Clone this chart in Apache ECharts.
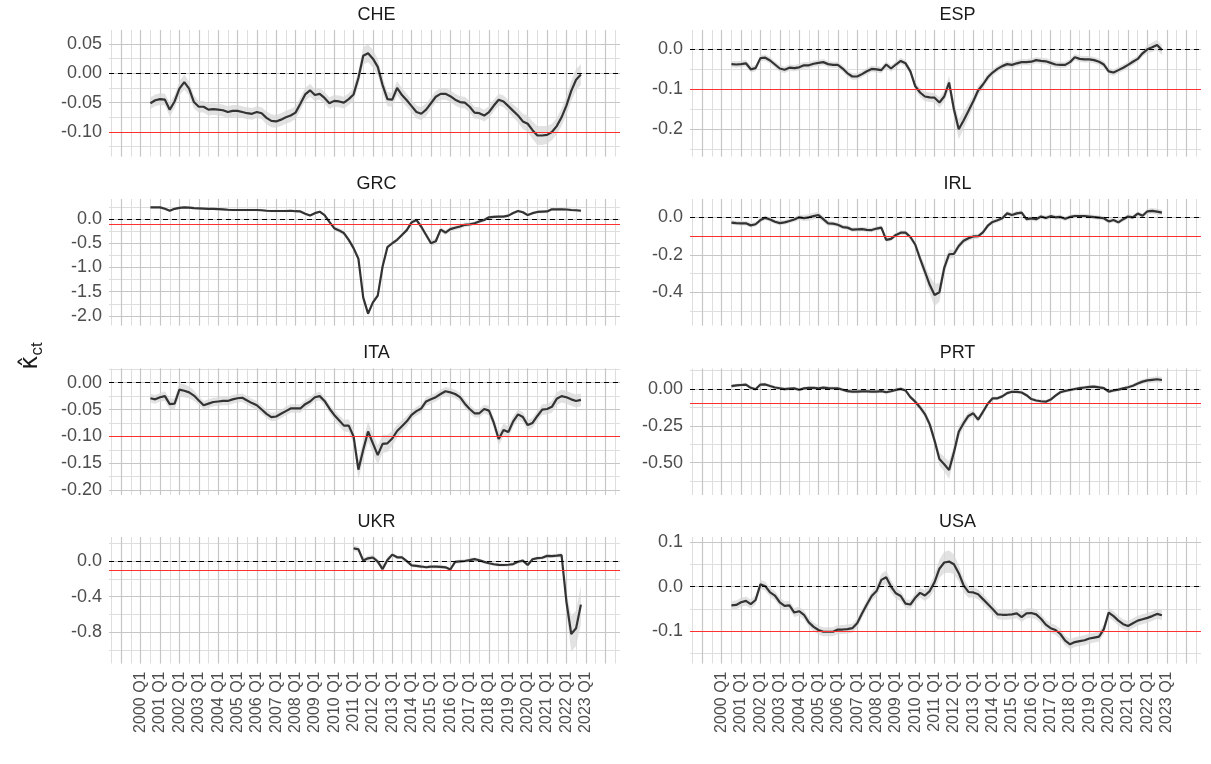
<!DOCTYPE html>
<html><head><meta charset="utf-8">
<script src="https://cdn.jsdelivr.net/npm/echarts@6/dist/echarts.min.js"></script>
<style>html,body{margin:0;padding:0;background:#fff}#c{width:1211px;height:764px}</style>
</head><body><div id="c"></div>
<script>
// ---------- data ----------
const countries = ['CHE','ESP','GRC','IRL','ITA','PRT','UKR','USA'];
const firstQuarter = 2000.5;   // 2000 Q3
const quarterCount = 90;       // up to 2022 Q4
const labelYears = [2000,2001,2002,2003,2004,2005,2006,2007,2008,2009,2010,2011,2012,2013,2014,2015,2016,2017,2018,2019,2020,2021,2022,2023];

const CHE = [-0.051,-0.046,
 -0.044,-0.045,-0.062,-0.048, -0.026,-0.015,-0.026,-0.049, -0.057,-0.057,-0.062,-0.061, -0.062,-0.063,-0.066,-0.064,
 -0.064,-0.066,-0.068,-0.069, -0.066,-0.068,-0.076,-0.081, -0.082,-0.079,-0.075,-0.072, -0.067,-0.052,-0.036,-0.029,
 -0.037,-0.035,-0.042,-0.051, -0.047,-0.048,-0.050,-0.044, -0.036,-0.008,0.030,0.034, 0.025,0.011,-0.020,-0.044,
 -0.045,-0.025,-0.037,-0.046, -0.056,-0.066,-0.069,-0.062, -0.051,-0.040,-0.035,-0.035, -0.039,-0.045,-0.049,-0.050,
 -0.057,-0.067,-0.068,-0.072, -0.066,-0.055,-0.045,-0.048, -0.056,-0.064,-0.072,-0.082, -0.086,-0.097,-0.106,-0.106,
 -0.105,-0.100,-0.090,-0.075, -0.055,-0.030,-0.011,-0.002];
const CHE_se = [0.010,0.010,
 0.010,0.010,0.012,0.011, 0.012,0.013,0.012,0.011, 0.010,0.010,0.010,0.010, 0.010,0.010,0.010,0.010,
 0.010,0.010,0.010,0.010, 0.010,0.010,0.011,0.011, 0.011,0.011,0.011,0.011, 0.011,0.011,0.011,0.011,
 0.010,0.010,0.010,0.010, 0.010,0.010,0.010,0.010, 0.011,0.013,0.015,0.015, 0.015,0.014,0.013,0.012,
 0.012,0.012,0.012,0.011, 0.011,0.011,0.011,0.011, 0.010,0.010,0.010,0.010, 0.010,0.010,0.010,0.010,
 0.010,0.010,0.010,0.010, 0.010,0.010,0.010,0.010, 0.010,0.011,0.012,0.013, 0.014,0.015,0.016,0.016,
 0.015,0.014,0.014,0.015, 0.016,0.017,0.018,0.018];

const ESP = [-0.037,-0.038,
 -0.037,-0.035,-0.050,-0.047, -0.022,-0.021,-0.028,-0.038, -0.048,-0.051,-0.046,-0.047, -0.045,-0.040,-0.040,-0.036,
 -0.034,-0.032,-0.037,-0.039, -0.039,-0.048,-0.060,-0.068, -0.068,-0.062,-0.055,-0.049, -0.050,-0.052,-0.038,-0.048,
 -0.038,-0.029,-0.035,-0.055, -0.092,-0.108,-0.118,-0.120, -0.121,-0.133,-0.118,-0.083, -0.150,-0.200,-0.178,-0.154,
 -0.130,-0.103,-0.088,-0.070, -0.058,-0.049,-0.042,-0.037, -0.039,-0.035,-0.032,-0.032, -0.031,-0.027,-0.029,-0.030,
 -0.034,-0.038,-0.039,-0.039, -0.032,-0.020,-0.024,-0.025, -0.025,-0.027,-0.031,-0.038, -0.055,-0.058,-0.052,-0.046,
 -0.039,-0.031,-0.024,-0.010, 0.000,0.005,0.011,-0.002];
const ESP_se = [0.008,0.008,
 0.008,0.008,0.008,0.008, 0.008,0.008,0.008,0.008, 0.008,0.008,0.008,0.008, 0.008,0.008,0.008,0.008,
 0.008,0.008,0.008,0.008, 0.008,0.008,0.008,0.008, 0.008,0.008,0.008,0.008, 0.008,0.008,0.008,0.008,
 0.008,0.008,0.008,0.008, 0.010,0.011,0.012,0.012, 0.012,0.013,0.014,0.016, 0.020,0.025,0.022,0.018,
 0.014,0.012,0.010,0.009, 0.008,0.008,0.008,0.008, 0.008,0.008,0.008,0.008, 0.008,0.008,0.008,0.008,
 0.008,0.008,0.008,0.008, 0.008,0.008,0.008,0.008, 0.008,0.008,0.008,0.008, 0.008,0.008,0.008,0.008,
 0.008,0.008,0.008,0.008, 0.010,0.012,0.013,0.012];

const GRC = [0.24,0.24,
 0.24,0.21,0.17,0.21, 0.23,0.24,0.235,0.225, 0.22,0.215,0.21,0.21, 0.205,0.20,0.19,0.185,
 0.185,0.185,0.185,0.185, 0.185,0.18,0.17,0.165, 0.165,0.165,0.165,0.17, 0.16,0.155,0.11,0.07,
 0.12,0.15,0.08,-0.06, -0.19,-0.235,-0.29,-0.43, -0.60,-0.82,-1.62,-1.95, -1.72,-1.58,-0.98,-0.58,
 -0.50,-0.43,-0.33,-0.23, -0.07,-0.02,-0.16,-0.33, -0.50,-0.46,-0.22,-0.28, -0.21,-0.18,-0.155,-0.12,
 -0.11,-0.09,-0.05,-0.02, 0.035,0.045,0.05,0.05, 0.07,0.125,0.165,0.14, 0.08,0.12,0.145,0.15,
 0.155,0.20,0.20,0.20, 0.195,0.185,0.18,0.17];
const GRC_se = [0.025,0.025,
 0.025,0.025,0.025,0.025, 0.025,0.025,0.025,0.025, 0.025,0.025,0.025,0.025, 0.025,0.025,0.025,0.025,
 0.025,0.025,0.025,0.025, 0.025,0.025,0.025,0.025, 0.025,0.025,0.025,0.025, 0.025,0.025,0.025,0.025,
 0.025,0.025,0.025,0.025, 0.04,0.05,0.05,0.05, 0.05,0.05,0.05,0.05, 0.05,0.05,0.05,0.04,
 0.04,0.04,0.04,0.04, 0.04,0.04,0.05,0.05, 0.06,0.06,0.05,0.05, 0.05,0.05,0.05,0.05,
 0.04,0.04,0.04,0.04, 0.03,0.03,0.03,0.03, 0.03,0.03,0.03,0.03, 0.03,0.03,0.03,0.03,
 0.03,0.03,0.03,0.03, 0.03,0.03,0.03,0.03];

const IRL = [-0.028,-0.031,
 -0.032,-0.032,-0.043,-0.037, -0.015,-0.003,-0.012,-0.024, -0.031,-0.027,-0.020,-0.012, 0.000,-0.004,0.000,0.006,
 0.012,-0.010,-0.032,-0.034, -0.040,-0.052,-0.055,-0.066, -0.064,-0.063,-0.067,-0.068, -0.060,-0.055,-0.120,-0.115,
 -0.094,-0.082,-0.082,-0.105, -0.145,-0.220,-0.290,-0.360, -0.414,-0.400,-0.270,-0.197, -0.195,-0.153,-0.125,-0.112,
 -0.102,-0.101,-0.080,-0.045, -0.025,-0.016,-0.005,0.021, 0.012,0.021,0.025,-0.010, -0.006,-0.010,0.004,-0.004,
 0.006,0.000,0.002,-0.008, 0.002,0.007,0.007,0.007, 0.004,0.001,-0.002,-0.005, -0.022,-0.014,-0.027,-0.010,
 0.004,0.000,0.020,0.008, 0.032,0.034,0.030,0.025];
const IRL_se = [0.012,0.012,
 0.012,0.012,0.012,0.012, 0.012,0.012,0.012,0.012, 0.012,0.012,0.012,0.012, 0.014,0.016,0.018,0.018,
 0.018,0.016,0.014,0.012, 0.012,0.012,0.012,0.012, 0.012,0.012,0.012,0.012, 0.012,0.012,0.012,0.012,
 0.012,0.012,0.012,0.012, 0.015,0.025,0.035,0.045, 0.060,0.050,0.035,0.025, 0.020,0.018,0.016,0.015,
 0.014,0.013,0.012,0.012, 0.012,0.012,0.012,0.012, 0.012,0.012,0.012,0.012, 0.012,0.012,0.012,0.012,
 0.012,0.012,0.012,0.012, 0.012,0.012,0.012,0.012, 0.012,0.012,0.012,0.012, 0.012,0.012,0.012,0.012,
 0.012,0.012,0.012,0.012, 0.014,0.015,0.015,0.015];

const ITA = [-0.029,-0.031,
 -0.027,-0.025,-0.040,-0.039, -0.013,-0.015,-0.018,-0.024, -0.033,-0.042,-0.039,-0.036, -0.035,-0.034,-0.034,-0.031,
 -0.029,-0.028,-0.033,-0.038, -0.042,-0.050,-0.058,-0.064, -0.063,-0.058,-0.053,-0.048, -0.048,-0.048,-0.040,-0.035,
 -0.027,-0.025,-0.034,-0.048, -0.060,-0.070,-0.080,-0.080, -0.100,-0.162,-0.125,-0.091, -0.113,-0.135,-0.114,-0.113,
 -0.104,-0.090,-0.081,-0.072, -0.060,-0.053,-0.048,-0.035, -0.031,-0.027,-0.021,-0.016, -0.018,-0.021,-0.027,-0.039,
 -0.049,-0.057,-0.057,-0.049, -0.052,-0.075,-0.105,-0.088, -0.092,-0.072,-0.059,-0.064, -0.079,-0.075,-0.062,-0.050,
 -0.049,-0.045,-0.030,-0.025, -0.027,-0.031,-0.034,-0.032];
const ITA_se = [0.008,0.008,
 0.008,0.009,0.010,0.010, 0.012,0.012,0.011,0.010, 0.008,0.008,0.008,0.008, 0.008,0.008,0.008,0.008,
 0.008,0.008,0.008,0.008, 0.008,0.008,0.008,0.008, 0.008,0.008,0.008,0.008, 0.008,0.008,0.008,0.008,
 0.008,0.008,0.008,0.008, 0.009,0.010,0.011,0.012, 0.014,0.018,0.018,0.018, 0.018,0.018,0.017,0.016,
 0.014,0.012,0.011,0.010, 0.008,0.008,0.008,0.008, 0.008,0.008,0.008,0.008, 0.008,0.008,0.008,0.008,
 0.008,0.008,0.008,0.008, 0.009,0.010,0.012,0.012, 0.011,0.010,0.009,0.009, 0.009,0.009,0.009,0.010,
 0.010,0.011,0.012,0.012, 0.012,0.012,0.012,0.012];

const PRT = [0.020,0.024,
 0.027,0.030,0.008,-0.002, 0.030,0.031,0.020,0.010, 0.005,-0.001,0.002,0.004, -0.005,0.004,0.008,0.007,
 0.005,0.009,0.006,0.005, 0.005,-0.005,-0.015,-0.018, -0.018,-0.016,-0.016,-0.018, -0.018,-0.014,-0.022,-0.015,
 -0.006,0.001,-0.010,-0.055, -0.086,-0.125,-0.170,-0.240, -0.350,-0.475,-0.510,-0.550, -0.430,-0.290,-0.232,-0.183,
 -0.165,-0.208,-0.155,-0.100, -0.063,-0.063,-0.050,-0.028, -0.019,-0.019,-0.024,-0.042, -0.068,-0.078,-0.083,-0.086,
 -0.072,-0.045,-0.022,-0.013, -0.007,0.000,0.006,0.010, 0.014,0.016,0.011,0.006, -0.018,-0.010,-0.004,0.004,
 0.012,0.022,0.037,0.050, 0.058,0.062,0.066,0.061];
const PRT_se = [0.012,0.012,
 0.012,0.012,0.012,0.012, 0.012,0.012,0.012,0.012, 0.012,0.012,0.012,0.012, 0.012,0.012,0.012,0.012,
 0.012,0.012,0.012,0.012, 0.012,0.012,0.012,0.012, 0.012,0.012,0.012,0.012, 0.012,0.012,0.012,0.012,
 0.012,0.012,0.012,0.012, 0.015,0.020,0.025,0.030, 0.035,0.045,0.050,0.060, 0.050,0.040,0.030,0.025,
 0.020,0.020,0.018,0.015, 0.012,0.012,0.012,0.012, 0.012,0.012,0.012,0.012, 0.012,0.012,0.012,0.012,
 0.012,0.012,0.012,0.012, 0.012,0.012,0.012,0.012, 0.012,0.012,0.012,0.012, 0.012,0.012,0.012,0.012,
 0.013,0.014,0.015,0.016, 0.018,0.020,0.020,0.020];

const UKR = [null,null,
 null,null,null,null, null,null,null,null, null,null,null,null, null,null,null,null,
 null,null,null,null, null,null,null,null, null,null,null,null, null,null,null,null,
 null,null,null,null, null,null,null,null, 0.142,0.132,0.005,0.030, 0.040,-0.007,-0.090,0.011,
 0.072,0.042,0.041,-0.002, -0.048,-0.055,-0.062,-0.070, -0.064,-0.064,-0.066,-0.071, -0.095,-0.010,-0.004,0.000,
 0.010,0.022,0.008,-0.010, -0.025,-0.036,-0.043,-0.045, -0.042,-0.034,-0.008,0.004, -0.045,0.020,0.032,0.037,
 0.058,0.056,0.060,0.067, -0.456,-0.820,-0.755,-0.490];
const UKR_se = [null,null,
 null,null,null,null, null,null,null,null, null,null,null,null, null,null,null,null,
 null,null,null,null, null,null,null,null, null,null,null,null, null,null,null,null,
 null,null,null,null, null,null,null,null, 0.03,0.03,0.03,0.03, 0.03,0.03,0.04,0.03,
 0.02,0.02,0.02,0.02, 0.02,0.02,0.02,0.02, 0.02,0.02,0.02,0.02, 0.02,0.02,0.02,0.02,
 0.02,0.02,0.02,0.02, 0.02,0.02,0.02,0.02, 0.02,0.02,0.02,0.02, 0.02,0.02,0.02,0.02,
 0.02,0.02,0.02,0.03, 0.12,0.20,0.20,0.22];

const USA = [-0.042,-0.041,
 -0.035,-0.032,-0.039,-0.030, 0.005,0.001,-0.013,-0.020, -0.035,-0.043,-0.042,-0.058, -0.055,-0.063,-0.080,-0.090,
 -0.097,-0.101,-0.101,-0.101, -0.096,-0.096,-0.095,-0.093, -0.082,-0.060,-0.040,-0.021, -0.010,0.015,0.021,0.000,
 -0.015,-0.021,-0.038,-0.040, -0.025,-0.014,-0.020,-0.010, 0.010,0.040,0.054,0.056, 0.050,0.030,0.003,-0.012,
 -0.013,-0.017,-0.028,-0.039, -0.050,-0.062,-0.063,-0.063, -0.062,-0.060,-0.068,-0.060, -0.059,-0.062,-0.072,-0.085,
 -0.093,-0.097,-0.106,-0.121, -0.129,-0.124,-0.122,-0.120, -0.116,-0.114,-0.112,-0.095, -0.058,-0.066,-0.076,-0.084,
 -0.088,-0.082,-0.076,-0.073, -0.070,-0.066,-0.061,-0.064];
const USA_se = [0.010,0.010,
 0.010,0.010,0.010,0.010, 0.010,0.010,0.010,0.010, 0.010,0.010,0.010,0.010, 0.010,0.010,0.010,0.010,
 0.010,0.010,0.010,0.010, 0.010,0.010,0.010,0.010, 0.010,0.010,0.010,0.010, 0.012,0.014,0.015,0.014,
 0.012,0.011,0.010,0.010, 0.010,0.011,0.012,0.014, 0.017,0.020,0.024,0.025, 0.022,0.018,0.015,0.013,
 0.011,0.011,0.011,0.011, 0.011,0.011,0.011,0.011, 0.011,0.011,0.011,0.011, 0.011,0.011,0.011,0.011,
 0.011,0.011,0.011,0.011, 0.011,0.011,0.011,0.011, 0.011,0.011,0.011,0.011, 0.011,0.011,0.011,0.011,
 0.011,0.011,0.011,0.011, 0.011,0.011,0.011,0.011];

// y ranges and label steps per panel
const yRanges = {CHE:[-0.1418,0.0738], ESP:[-0.268,0.0483], GRC:[-2.196,0.412], IRL:[-0.577,0.0976],
                 ITA:[-0.2093,0.0265], PRT:[-0.719,0.139], UKR:[-1.152,0.27], USA:[-0.172,0.111]};
const yMajorStep = {CHE:0.05, ESP:0.1, GRC:0.5, IRL:0.2, ITA:0.05, PRT:0.25, UKR:0.4, USA:0.1};
const yDecimals  = {CHE:2, ESP:1, GRC:1, IRL:1, ITA:2, PRT:2, UKR:1, USA:1};
const zeroLevel = 0;
const thresholdLevel = -0.1;

// ---------- layout ----------
const seriesValues = {CHE, ESP, GRC, IRL, ITA, PRT, UKR, USA};
const seriesSE = {CHE:CHE_se, ESP:ESP_se, GRC:GRC_se, IRL:IRL_se, ITA:ITA_se, PRT:PRT_se, UKR:UKR_se, USA:USA_se};
const colLeft = [109, 690];
const panelW = 511;
const rowTop = [30, 199, 368.5, 537];
const panelH = 126.5;
const XMIN = 1998.36, XMAX = 2024.77;
const majorGrid = '#c6c6c6', minorGrid = '#dedede';
const FONT = 'Liberation Sans, Arial, sans-serif';

const xTime = Array.from({length: quarterCount}, (_, i) => firstQuarter + i * 0.25);

const grids = [], xAxes = [], yAxes = [], series = [], graphics = [];

countries.forEach((c, g) => {
  const row = Math.floor(g / 2), col = g % 2;
  grids.push({left: colLeft[col], top: rowTop[row], width: panelW, height: panelH, containLabel: false});
  const bottom = row === 3;
  const [ymin, ymax] = yRanges[c];
  const maj = yMajorStep[c];
  xAxes.push({
    type: 'value', gridIndex: g, min: XMIN, max: XMAX, minInterval: 1, maxInterval: 1, z: 2,
    axisLine: {show: false}, axisTick: {show: false},
    splitLine: {show: true, showMinLine: false, showMaxLine: false, lineStyle: {color: majorGrid, width: 1.2}},
    axisLabel: {show: bottom, rotate: 90, fontSize: 16, color: '#4d4d4d', fontFamily: FONT, margin: 8,
      formatter: v => (Math.abs(v - Math.round(v)) < 1e-6 && labelYears.includes(Math.round(v))) ? Math.round(v) + ' Q1' : ''}
  });
  xAxes.push({
    type: 'value', gridIndex: g, min: XMIN, max: XMAX, minInterval: 0.5, maxInterval: 0.5, z: 1,
    axisLine: {show: false}, axisTick: {show: false}, axisLabel: {show: false},
    splitLine: {show: true, showMinLine: false, showMaxLine: false, lineStyle: {color: minorGrid, width: 1}}
  });
  yAxes.push({
    type: 'value', gridIndex: g, min: ymin, max: ymax, minInterval: maj, maxInterval: maj, z: 2,
    axisLine: {show: false}, axisTick: {show: false},
    splitLine: {show: true, showMinLine: false, showMaxLine: false, lineStyle: {color: majorGrid, width: 1.2}},
    axisLabel: {show: true, fontSize: 18, color: '#4d4d4d', fontFamily: FONT, margin: 7,
      formatter: v => {
        const r = v / maj;
        if (Math.abs(r - Math.round(r)) > 1e-6) return '';
        const val = Math.round(r) * maj;
        return (Math.abs(val) < 1e-9 ? 0 : val).toFixed(yDecimals[c]);
      }}
  });
  yAxes.push({
    type: 'value', gridIndex: g, min: ymin, max: ymax, minInterval: maj / 2, maxInterval: maj / 2, z: 1,
    axisLine: {show: false}, axisTick: {show: false}, axisLabel: {show: false},
    splitLine: {show: true, showMinLine: false, showMaxLine: false, lineStyle: {color: minorGrid, width: 1}}
  });

  const vals = seriesValues[c], se = seriesSE[c];
  series.push({
    type: 'custom', xAxisIndex: 2 * g, yAxisIndex: 2 * g, silent: true, z: 2,
    data: [[xTime[60], vals[60]]],
    renderItem: (params, api) => {
      const up = [], lo = [];
      for (let i = 0; i < quarterCount; i++) {
        if (vals[i] == null) continue;
        up.push(api.coord([xTime[i], vals[i] + se[i]]));
        lo.push(api.coord([xTime[i], vals[i] - se[i]]));
      }
      return {type: 'polygon', shape: {points: up.concat(lo.reverse())},
              style: {fill: 'rgba(215,215,215,0.72)', stroke: null}};
    }
  });
  series.push({
    type: 'line', xAxisIndex: 2 * g, yAxisIndex: 2 * g, z: 3,
    data: vals.map((v, i) => [xTime[i], v]),
    symbol: 'none', connectNulls: false,
    lineStyle: {color: '#333333', width: 2.2},
    markLine: {
      silent: true, symbol: ['none', 'none'], label: {show: false}, animation: false,
      data: [
        {yAxis: zeroLevel, lineStyle: {type: [5, 4], color: '#000000', width: 1.1}},
        {yAxis: thresholdLevel, lineStyle: {type: 'solid', color: '#ff3030', width: 1.1}}
      ]
    }
  });
  graphics.push({type: 'text', x: colLeft[col] + panelW / 2 + 12, y: rowTop[row] - 15, silent: true,
    style: {text: c, fill: '#1a1a1a', font: '18px ' + FONT, align: 'center', verticalAlign: 'middle'}});
});

graphics.push({type: 'text', x: 31, y: 356, rotation: Math.PI / 2, silent: true,
  style: {text: '{a|κ̂}{b|ct}', align: 'center', verticalAlign: 'middle', fill: '#1a1a1a',
    rich: {a: {fontSize: 24, fontFamily: 'DejaVu Sans', fill: '#1a1a1a'},
           b: {fontSize: 17, fontFamily: FONT, fill: '#1a1a1a', padding: [12, 0, 0, 0]}}}});

const chart = echarts.init(document.getElementById('c'), null, {renderer: 'canvas', width: 1211, height: 764});
chart.setOption({
  animation: false,
  backgroundColor: '#ffffff',
  grid: grids, xAxis: xAxes, yAxis: yAxes, series: series, graphic: graphics
});
</script>
</body></html>
